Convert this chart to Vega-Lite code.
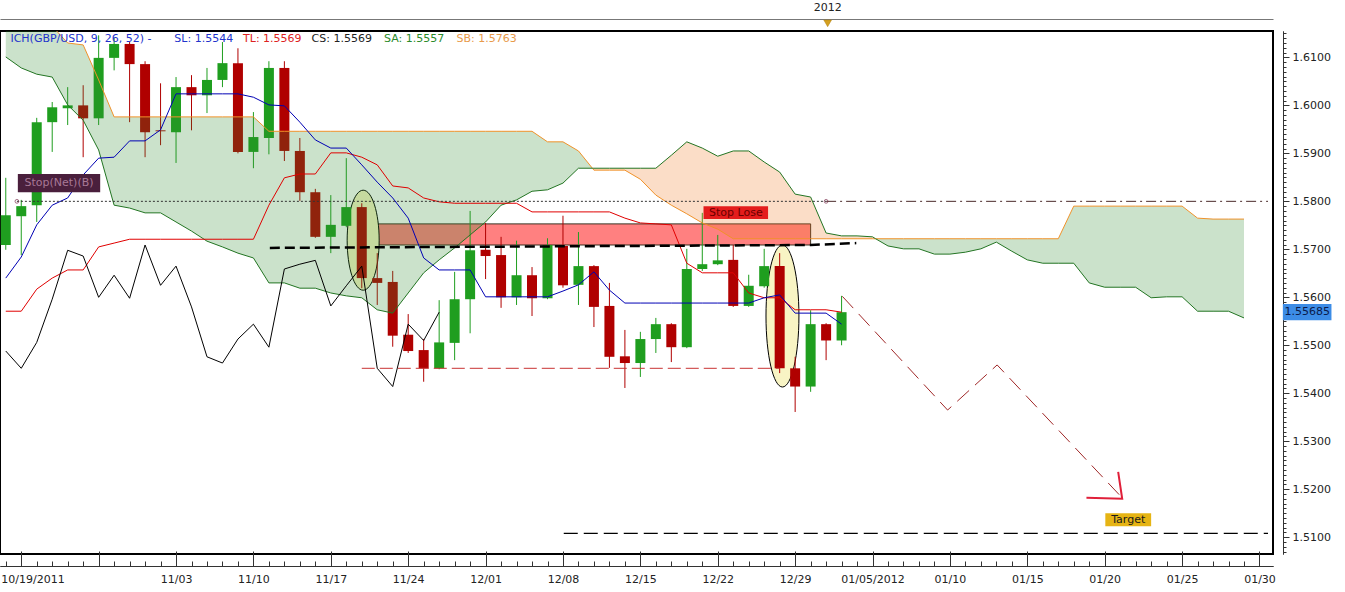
{
"$schema": "https://vega.github.io/schema/vega-lite/v6.json",
"width": 1273, "height": 523,
"autosize": {"type": "none"},
"padding": {"left": 0, "top": 31, "right": 72, "bottom": 38},
"background": "#ffffff",
"config": {"view": {"stroke": "#000000", "strokeWidth": 2}, "font": "DejaVu Sans",
  "axis": {"labelFont": "DejaVu Sans", "labelFontSize": 11, "labelColor": "#222222", "tickColor": "#333333", "domainColor": "#333333", "grid": false}},
"datasets": {
"ohlc": [
{"t":0,"o":1.5709,"h":1.5849,"l":1.5699,"c":1.5771},
{"t":1,"o":1.5769,"h":1.5803,"l":1.5688,"c":1.5790},
{"t":2,"o":1.5792,"h":1.5974,"l":1.5757,"c":1.5965},
{"t":3,"o":1.5965,"h":1.6007,"l":1.5903,"c":1.5996},
{"t":4,"o":1.5994,"h":1.6038,"l":1.5959,"c":1.6000},
{"t":5,"o":1.6000,"h":1.6042,"l":1.5892,"c":1.5973},
{"t":6,"o":1.5973,"h":1.6146,"l":1.5959,"c":1.6099},
{"t":7,"o":1.6099,"h":1.6140,"l":1.6073,"c":1.6128},
{"t":8,"o":1.6128,"h":1.6132,"l":1.5965,"c":1.6086},
{"t":9,"o":1.6086,"h":1.6092,"l":1.5892,"c":1.5944},
{"t":10,"o":1.5948,"h":1.6046,"l":1.5917,"c":1.5946},
{"t":11,"o":1.5944,"h":1.6059,"l":1.5880,"c":1.6038},
{"t":12,"o":1.6038,"h":1.6063,"l":1.5948,"c":1.6021},
{"t":13,"o":1.6021,"h":1.6078,"l":1.5984,"c":1.6053},
{"t":14,"o":1.6053,"h":1.6132,"l":1.6038,"c":1.6088},
{"t":15,"o":1.6088,"h":1.6119,"l":1.5900,"c":1.5903},
{"t":16,"o":1.5903,"h":1.5986,"l":1.5869,"c":1.5934},
{"t":17,"o":1.5932,"h":1.6092,"l":1.5898,"c":1.6078},
{"t":18,"o":1.6078,"h":1.6092,"l":1.5884,"c":1.5905},
{"t":19,"o":1.5905,"h":1.5932,"l":1.5801,"c":1.5819},
{"t":20,"o":1.5819,"h":1.5826,"l":1.5724,"c":1.5726},
{"t":21,"o":1.5726,"h":1.5813,"l":1.5692,"c":1.5751},
{"t":22,"o":1.5749,"h":1.5890,"l":1.5746,"c":1.5788},
{"t":23,"o":1.5788,"h":1.5796,"l":1.5619,"c":1.5640},
{"t":24,"o":1.5640,"h":1.5692,"l":1.5584,"c":1.5630},
{"t":25,"o":1.5632,"h":1.5655,"l":1.5497,"c":1.5520},
{"t":26,"o":1.5522,"h":1.5565,"l":1.5484,"c":1.5488},
{"t":27,"o":1.5490,"h":1.5513,"l":1.5424,"c":1.5452},
{"t":28,"o":1.5452,"h":1.5594,"l":1.5450,"c":1.5506},
{"t":29,"o":1.5505,"h":1.5653,"l":1.5469,"c":1.5596},
{"t":30,"o":1.5596,"h":1.5780,"l":1.5525,"c":1.5698},
{"t":31,"o":1.5699,"h":1.5755,"l":1.5638,"c":1.5686},
{"t":32,"o":1.5688,"h":1.5726,"l":1.5578,"c":1.5600},
{"t":33,"o":1.5600,"h":1.5718,"l":1.5584,"c":1.5646},
{"t":34,"o":1.5646,"h":1.5663,"l":1.5561,"c":1.5598},
{"t":35,"o":1.5598,"h":1.5723,"l":1.5596,"c":1.5709},
{"t":36,"o":1.5707,"h":1.5770,"l":1.5620,"c":1.5625},
{"t":37,"o":1.5626,"h":1.5736,"l":1.5584,"c":1.5665},
{"t":38,"o":1.5665,"h":1.5667,"l":1.5538,"c":1.5580},
{"t":39,"o":1.5582,"h":1.5630,"l":1.5453,"c":1.5476},
{"t":40,"o":1.5477,"h":1.5532,"l":1.5411,"c":1.5463},
{"t":41,"o":1.5463,"h":1.5528,"l":1.5434,"c":1.5513},
{"t":42,"o":1.5513,"h":1.5557,"l":1.5484,"c":1.5544},
{"t":43,"o":1.5544,"h":1.5546,"l":1.5465,"c":1.5496},
{"t":44,"o":1.5496,"h":1.5701,"l":1.5494,"c":1.5659},
{"t":45,"o":1.5659,"h":1.5776,"l":1.5655,"c":1.5669},
{"t":46,"o":1.5669,"h":1.5730,"l":1.5667,"c":1.5677},
{"t":47,"o":1.5678,"h":1.5709,"l":1.5580,"c":1.5582},
{"t":48,"o":1.5582,"h":1.5647,"l":1.5580,"c":1.5624},
{"t":49,"o":1.5623,"h":1.5701,"l":1.5620,"c":1.5665},
{"t":50,"o":1.5665,"h":1.5692,"l":1.5442,"c":1.5452},
{"t":51,"o":1.5452,"h":1.5476,"l":1.5361,"c":1.5414},
{"t":52,"o":1.5414,"h":1.5573,"l":1.5403,"c":1.5544},
{"t":53,"o":1.5544,"h":1.5546,"l":1.5469,"c":1.5510},
{"t":54,"o":1.5510,"h":1.5603,"l":1.5500,"c":1.5569}
],
"chikou": [
{"t":0,"cs":1.5488},{"t":1,"cs":1.5452},{"t":2,"cs":1.5506},{"t":3,"cs":1.5596},{"t":4,"cs":1.5698},
{"t":5,"cs":1.5686},{"t":6,"cs":1.5600},{"t":7,"cs":1.5646},{"t":8,"cs":1.5598},{"t":9,"cs":1.5709},
{"t":10,"cs":1.5625},{"t":11,"cs":1.5665},{"t":12,"cs":1.5580},{"t":13,"cs":1.5476},{"t":14,"cs":1.5463},
{"t":15,"cs":1.5513},{"t":16,"cs":1.5544},{"t":17,"cs":1.5496},{"t":18,"cs":1.5659},{"t":19,"cs":1.5669},
{"t":20,"cs":1.5677},{"t":21,"cs":1.5582},{"t":22,"cs":1.5624},{"t":23,"cs":1.5665},{"t":24,"cs":1.5452},
{"t":25,"cs":1.5414},{"t":26,"cs":1.5544},{"t":27,"cs":1.5510},{"t":28,"cs":1.5569}
],
"ichi": [
{"t":0,"tl":1.5571,"sl":1.5640},{"t":1,"tl":1.5571,"sl":1.5684},{"t":2,"tl":1.5617,"sl":1.5751},
{"t":3,"tl":1.5640,"sl":1.5792},{"t":4,"tl":1.5657,"sl":1.5807},{"t":5,"tl":1.5657,"sl":1.5855},
{"t":6,"tl":1.5705,"sl":1.5890},{"t":7,"tl":1.5713,"sl":1.5892},{"t":8,"tl":1.5721,"sl":1.5926},
{"t":9,"tl":1.5721,"sl":1.5926},{"t":10,"tl":1.5721,"sl":1.5949},{"t":11,"tl":1.5721,"sl":1.6024},
{"t":12,"tl":1.5721,"sl":1.6024},{"t":13,"tl":1.5721,"sl":1.6024},{"t":14,"tl":1.5721,"sl":1.6024},
{"t":15,"tl":1.5721,"sl":1.6024},{"t":16,"tl":1.5721,"sl":1.6017},{"t":17,"tl":1.5792,"sl":1.6001},
{"t":18,"tl":1.5849,"sl":1.5999},{"t":19,"tl":1.5857,"sl":1.5965},{"t":20,"tl":1.5857,"sl":1.5928},
{"t":21,"tl":1.5901,"sl":1.5911},{"t":22,"tl":1.5901,"sl":1.5911},{"t":23,"tl":1.5892,"sl":1.5876},
{"t":24,"tl":1.5876,"sl":1.5840},{"t":25,"tl":1.5832,"sl":1.5807},{"t":26,"tl":1.5828,"sl":1.5765},
{"t":27,"tl":1.5807,"sl":1.5682},{"t":28,"tl":1.5799,"sl":1.5657},{"t":29,"tl":1.5796,"sl":1.5657},
{"t":30,"tl":1.5796,"sl":1.5657},{"t":31,"tl":1.5796,"sl":1.5601},{"t":32,"tl":1.5796,"sl":1.5601},
{"t":33,"tl":1.5796,"sl":1.5601},{"t":34,"tl":1.5778,"sl":1.5601},{"t":35,"tl":1.5778,"sl":1.5601},
{"t":36,"tl":1.5778,"sl":1.5613},{"t":37,"tl":1.5778,"sl":1.5626},{"t":38,"tl":1.5778,"sl":1.5653},
{"t":39,"tl":1.5778,"sl":1.5615},{"t":40,"tl":1.5765,"sl":1.5588},{"t":41,"tl":1.5755,"sl":1.5588},
{"t":42,"tl":1.5753,"sl":1.5588},{"t":43,"tl":1.5751,"sl":1.5588},{"t":44,"tl":1.5671,"sl":1.5588},
{"t":45,"tl":1.5651,"sl":1.5588},{"t":46,"tl":1.5651,"sl":1.5588},{"t":47,"tl":1.5651,"sl":1.5588},
{"t":48,"tl":1.5609,"sl":1.5588},{"t":49,"tl":1.5599,"sl":1.5599},{"t":50,"tl":1.5599,"sl":1.5605},
{"t":51,"tl":1.5574,"sl":1.5567},{"t":52,"tl":1.5574,"sl":1.5567},{"t":53,"tl":1.5574,"sl":1.5567},
{"t":54,"tl":1.5569,"sl":1.5544}
],
"kumo": [
{"t":0,"sa":1.6101,"sb":1.6165},{"t":1,"sa":1.6078,"sb":1.6165},{"t":2,"sa":1.6065,"sb":1.6165},
{"t":3,"sa":1.6059,"sb":1.6165},{"t":4,"sa":1.6001,"sb":1.6130},{"t":5,"sa":1.5969,"sb":1.6126},
{"t":6,"sa":1.5907,"sb":1.6053},{"t":7,"sa":1.5792,"sb":1.5976},{"t":8,"sa":1.5786,"sb":1.5976},
{"t":9,"sa":1.5776,"sb":1.5976},{"t":10,"sa":1.5776,"sb":1.5976},{"t":11,"sa":1.5757,"sb":1.5976},
{"t":12,"sa":1.5738,"sb":1.5976},{"t":13,"sa":1.5717,"sb":1.5976},{"t":14,"sa":1.5705,"sb":1.5976},
{"t":15,"sa":1.5692,"sb":1.5976},{"t":16,"sa":1.5682,"sb":1.5976},{"t":17,"sa":1.5630,"sb":1.5946},
{"t":18,"sa":1.5630,"sb":1.5946},{"t":19,"sa":1.5619,"sb":1.5946},{"t":20,"sa":1.5619,"sb":1.5946},
{"t":21,"sa":1.5609,"sb":1.5946},{"t":22,"sa":1.5603,"sb":1.5946},{"t":23,"sa":1.5599,"sb":1.5946},
{"t":24,"sa":1.5574,"sb":1.5946},{"t":25,"sa":1.5567,"sb":1.5946},{"t":26,"sa":1.5609,"sb":1.5946},
{"t":27,"sa":1.5651,"sb":1.5946},{"t":28,"sa":1.5678,"sb":1.5946},{"t":29,"sa":1.5703,"sb":1.5946},
{"t":30,"sa":1.5730,"sb":1.5946},{"t":31,"sa":1.5757,"sb":1.5946},{"t":32,"sa":1.5792,"sb":1.5946},
{"t":33,"sa":1.5803,"sb":1.5946},{"t":34,"sa":1.5821,"sb":1.5946},{"t":35,"sa":1.5824,"sb":1.5924},
{"t":36,"sa":1.5838,"sb":1.5924},{"t":37,"sa":1.5869,"sb":1.5905},{"t":37.9,"sa":1.5869,"sb":1.5869},
{"t":38,"sa":1.5869,"sb":1.5865},{"t":39,"sa":1.5869,"sb":1.5865},{"t":40,"sa":1.5869,"sb":1.5865},
{"t":41,"sa":1.5869,"sb":1.5846},{"t":42,"sa":1.5869,"sb":1.5813},{"t":43,"sa":1.5896,"sb":1.5792},
{"t":44,"sa":1.5924,"sb":1.5774},{"t":45,"sa":1.5911,"sb":1.5755},{"t":46,"sa":1.5894,"sb":1.5742},
{"t":47,"sa":1.5905,"sb":1.5722},{"t":48,"sa":1.5905,"sb":1.5722},{"t":49,"sa":1.5882,"sb":1.5722},
{"t":50,"sa":1.5861,"sb":1.5722},{"t":51,"sa":1.5815,"sb":1.5722},{"t":52,"sa":1.5809,"sb":1.5722},
{"t":53,"sa":1.5734,"sb":1.5722},{"t":54,"sa":1.5728,"sb":1.5722},{"t":55,"sa":1.5728,"sb":1.5722},
{"t":56,"sa":1.5726,"sb":1.5722},{"t":56.2,"sa":1.5722,"sb":1.5722},{"t":57,"sa":1.5707,"sb":1.5722},
{"t":58,"sa":1.5701,"sb":1.5722},{"t":59,"sa":1.5701,"sb":1.5722},{"t":60,"sa":1.5690,"sb":1.5722},
{"t":61,"sa":1.5690,"sb":1.5722},{"t":62,"sa":1.5694,"sb":1.5722},{"t":63,"sa":1.5701,"sb":1.5722},
{"t":64,"sa":1.5715,"sb":1.5722},{"t":65,"sa":1.5696,"sb":1.5722},{"t":66,"sa":1.5678,"sb":1.5722},
{"t":67,"sa":1.5671,"sb":1.5722},{"t":68,"sa":1.5671,"sb":1.5722},{"t":69,"sa":1.5671,"sb":1.5790},
{"t":70,"sa":1.5630,"sb":1.5790},{"t":71,"sa":1.5621,"sb":1.5790},{"t":72,"sa":1.5621,"sb":1.5790},
{"t":73,"sa":1.5621,"sb":1.5790},{"t":74,"sa":1.5599,"sb":1.5790},{"t":75,"sa":1.5601,"sb":1.5790},
{"t":76,"sa":1.5601,"sb":1.5790},{"t":77,"sa":1.5571,"sb":1.5765},{"t":78,"sa":1.5571,"sb":1.5763},
{"t":79,"sa":1.5571,"sb":1.5763},{"t":80,"sa":1.5557,"sb":1.5763}
],
"tags": [
{"id":"net","t1":0.78,"t2":6.1,"p1":1.5857,"p2":1.5819,"tc":3.44,"pc":1.5838,"txt":"Stop(Net)(B)"},
{"id":"lose","t1":45.08,"t2":49.25,"p1":1.5790,"p2":1.5763,"tc":47.17,"pc":1.57765,"txt":"Stop Lose"},
{"id":"target","t1":71.04,"t2":74.0,"p1":1.5150,"p2":1.5123,"tc":72.52,"pc":1.51365,"txt":"Target"},
{"id":"price","t1":82.51,"t2":85.65,"p1":1.5586,"p2":1.5552,"tc":84.08,"pc":1.55685,"txt":"1.55685"}
],
"hdr": [
{"t":0.3,"p":1.6138,"s":"ich","txt":"ICH(GBP/USD, 9, 26, 52) -"},
{"t":10.89,"p":1.6138,"s":"sl","txt":"SL: 1.5544"},
{"t":15.33,"p":1.6138,"s":"tl","txt":"TL: 1.5569"},
{"t":19.76,"p":1.6138,"s":"cs","txt":"CS: 1.5569"},
{"t":24.44,"p":1.6138,"s":"sa","txt":"SA: 1.5557"},
{"t":29.12,"p":1.6138,"s":"sb","txt":"SB: 1.5763"}
]
},
"encoding": {
  "x": {"field": "t", "type": "quantitative", "scale": {"domain": [-0.05, 81.55], "nice": false, "zero": false}, "axis": null},
  "y": {"field": "p", "type": "quantitative", "scale": {"domain": [1.5065, 1.6155], "nice": false, "zero": false}, "axis": null}
},
"resolve": {"axis": {"x": "independent", "y": "independent"}, "scale": {"color": "independent", "fill": "independent"}},
"layer": [
{"data": {"values": [{"t1": 24.05, "t2": 52.0, "p1": 1.5753, "p2": 1.5709}]},
 "mark": {"type": "rect", "fill": "#ff8080", "stroke": "#3a3020", "strokeWidth": 1},
 "encoding": {"x": {"field": "t1", "type": "quantitative", "axis": null}, "x2": {"field": "t2"},
   "y": {"field": "p1", "type": "quantitative", "axis": null}, "y2": {"field": "p2"}}},
{"data": {"values": [{"t": 23.09, "p": 1.5719}]},
 "mark": {"type": "point", "shape": "M0,-1C0.1767,-1,0.32,-0.5523,0.32,0C0.32,0.5523,0.1767,1,0,1C-0.1767,1,-0.32,0.5523,-0.32,0C-0.32,-0.5523,-0.1767,-1,0,-1Z", "size": 10000, "filled": true, "fill": "#f8f4c4", "stroke": "#000000", "strokeWidth": 1, "opacity": 1}},
{"data": {"values": [{"t": 50.18, "p": 1.5561}]},
 "mark": {"type": "point", "shape": "M0,-1C0.1282,-1,0.232,-0.5523,0.232,0C0.232,0.5523,0.1282,1,0,1C-0.1282,1,-0.232,0.5523,-0.232,0C-0.232,-0.5523,-0.1282,-1,0,-1Z", "size": 20164, "filled": true, "fill": "#f8f4c4", "stroke": "#000000", "strokeWidth": 1, "opacity": 1}},
{"data": {"name": "ohlc"},
 "mark": {"type": "rule", "strokeWidth": 1},
 "encoding": {
   "x": {"field": "t", "type": "quantitative", "scale": {"domain": [-0.05, 81.55], "nice": false, "zero": false},
     "axis": {"orient": "bottom", "offset": 12, "title": null, "grid": false,
       "values": [0,1,6,11,16,21,26,31,36,41,46,51,56,61,66,71,76,81],
       "labelExpr": "datum.value == 0 ? '10/19/2011' : ['','','11/03','11/10','11/17','11/24','12/01','12/08','12/15','12/22','12/29','01/05/2012','01/10','01/15','01/20','01/25','01/30'][(datum.value-1)/5]",
       "tickSize": -15, "labelPadding": 22, "labelFlush": false, "labelOverlap": false, "labelBound": false,
       "labelAlign": {"condition": {"test": "datum.value == 0", "value": "left"}, "value": "center"},
       "labelOffset": {"condition": {"test": "datum.value == 0", "value": -5}, "value": 0},
       "tickOpacity": {"condition": {"test": "datum.value == 0", "value": 0}, "value": 1}}},
   "y": {"field": "l", "type": "quantitative", "scale": {"domain": [1.5065, 1.6155], "nice": false, "zero": false},
     "axis": {"orient": "right", "offset": 10, "title": null, "grid": false,
       "values": [1.51,1.52,1.53,1.54,1.55,1.56,1.57,1.58,1.59,1.60,1.61], "format": ".4f",
       "tickSize": 6, "labelPadding": 3, "labelOverlap": false}},
   "y2": {"field": "h"},
   "color": {"condition": {"test": "datum.c >= datum.o", "value": "#1f9e1f"}, "value": "#b00000"}}},
{"data": {"name": "ohlc"},
 "mark": {"type": "bar", "size": 10, "orient": "vertical"},
 "encoding": {
   "x": {"field": "t", "type": "quantitative", "scale": {"domain": [-0.05, 81.55], "nice": false, "zero": false},
     "axis": {"orient": "bottom", "offset": 12, "title": null, "grid": false, "tickCount": 82, "tickSize": -5, "labels": false}},
   "y": {"field": "o", "type": "quantitative", "scale": {"domain": [1.5065, 1.6155], "nice": false, "zero": false},
     "axis": {"orient": "right", "offset": 10, "title": null, "grid": false, "tickCount": 109, "tickSize": 3, "labels": false}},
   "y2": {"field": "c"},
   "color": {"condition": {"test": "datum.c >= datum.o", "value": "#1f9e1f"}, "value": "#b00000"}}},
{"data": {"name": "kumo"}, "transform": [{"filter": "datum.t <= 37.9"}],
 "mark": {"type": "area", "fill": "#2e8b2e", "fillOpacity": 0.25, "clip": true},
 "encoding": {"y": {"field": "sa", "type": "quantitative", "axis": null}, "y2": {"field": "sb"}}},
{"data": {"name": "kumo"}, "transform": [{"filter": "datum.t >= 37.9 && datum.t <= 56.2"}],
 "mark": {"type": "area", "fill": "#f0781e", "fillOpacity": 0.25, "clip": true},
 "encoding": {"y": {"field": "sa", "type": "quantitative", "axis": null}, "y2": {"field": "sb"}}},
{"data": {"name": "kumo"}, "transform": [{"filter": "datum.t >= 56.2"}],
 "mark": {"type": "area", "fill": "#2e8b2e", "fillOpacity": 0.25, "clip": true},
 "encoding": {"y": {"field": "sa", "type": "quantitative", "axis": null}, "y2": {"field": "sb"}}},
{"data": {"name": "kumo"},
 "mark": {"type": "line", "stroke": "#f0922a", "strokeWidth": 1, "clip": true},
 "encoding": {"y": {"field": "sb", "type": "quantitative", "axis": null}}},
{"data": {"name": "kumo"},
 "mark": {"type": "line", "stroke": "#237523", "strokeWidth": 1, "clip": true},
 "encoding": {"y": {"field": "sa", "type": "quantitative", "axis": null}}},
{"data": {"name": "ichi"},
 "mark": {"type": "line", "stroke": "#e00000", "strokeWidth": 1},
 "encoding": {"y": {"field": "tl", "type": "quantitative", "axis": null}}},
{"data": {"name": "ichi"},
 "mark": {"type": "line", "stroke": "#0000b4", "strokeWidth": 1},
 "encoding": {"y": {"field": "sl", "type": "quantitative", "axis": null}}},
{"data": {"name": "chikou"},
 "mark": {"type": "line", "stroke": "#000000", "strokeWidth": 1},
 "encoding": {"y": {"field": "cs", "type": "quantitative", "axis": null}}},
{"data": {"values": [{"t1": 0.72, "t2": 53.0, "p": 1.58}]},
 "mark": {"type": "rule", "stroke": "#333333", "strokeWidth": 1, "strokeDash": [2, 2]},
 "encoding": {"x": {"field": "t1", "type": "quantitative", "axis": null}, "x2": {"field": "t2"}}},
{"data": {"values": [{"t1": 53.0, "t2": 81.55, "p": 1.58}]},
 "mark": {"type": "rule", "stroke": "#4a2a2a", "strokeWidth": 1, "strokeDash": [10, 4, 2, 4]},
 "encoding": {"x": {"field": "t1", "type": "quantitative", "axis": null}, "x2": {"field": "t2"}}},
{"data": {"values": [{"t": 0.72, "p": 1.58}, {"t": 53.0, "p": 1.58}]},
 "mark": {"type": "point", "size": 14, "filled": false, "stroke": "#7a2a4a", "strokeWidth": 1}},
{"data": {"values": [{"t": 17.06, "p": 1.5703}, {"t": 52.0, "p": 1.5709}, {"t": 54.95, "p": 1.5713}]},
 "mark": {"type": "line", "stroke": "#000000", "strokeWidth": 2.5, "strokeDash": [10, 5]}},
{"data": {"values": [{"t1": 23.0, "t2": 50.0, "p": 1.5452}]},
 "mark": {"type": "rule", "stroke": "#c83232", "strokeWidth": 1, "strokeDash": [13, 5]},
 "encoding": {"x": {"field": "t1", "type": "quantitative", "axis": null}, "x2": {"field": "t2"}}},
{"data": {"values": [{"t1": 36.05, "t2": 81.55, "p": 1.5108}]},
 "mark": {"type": "rule", "stroke": "#000000", "strokeWidth": 1.2, "strokeDash": [14, 6]},
 "encoding": {"x": {"field": "t1", "type": "quantitative", "axis": null}, "x2": {"field": "t2"}}},
{"data": {"values": [{"t": 54.05, "p": 1.5602}, {"t": 60.85, "p": 1.5365}, {"t": 64.05, "p": 1.5459}, {"t": 72.13, "p": 1.5182}]},
 "mark": {"type": "line", "stroke": "#a02828", "strokeWidth": 1, "strokeDash": [16, 8]}},
{"data": {"values": [{"k": 1, "t": 69.82, "p": 1.5182}, {"k": 2, "t": 72.13, "p": 1.5180}, {"k": 3, "t": 71.87, "p": 1.5236}]},
 "mark": {"type": "line", "stroke": "#e0203a", "strokeWidth": 2},
 "encoding": {"order": {"field": "k", "type": "quantitative"}}},
{"data": {"name": "tags"},
 "mark": {"type": "rect"},
 "encoding": {"x": {"field": "t1", "type": "quantitative", "axis": null}, "x2": {"field": "t2"},
   "y": {"field": "p1", "type": "quantitative", "axis": null}, "y2": {"field": "p2"},
   "fill": {"field": "id", "type": "nominal", "legend": null,
     "scale": {"domain": ["net", "lose", "target", "price"], "range": ["#4a1f3c", "#e41c1c", "#e6b414", "#3c8ce6"]}}}},
{"data": {"name": "tags"},
 "mark": {"type": "text", "font": "DejaVu Sans", "fontSize": 11, "align": "center", "baseline": "middle"},
 "encoding": {"x": {"field": "tc", "type": "quantitative", "axis": null},
   "y": {"field": "pc", "type": "quantitative", "axis": null},
   "text": {"field": "txt"},
   "color": {"field": "id", "type": "nominal", "legend": null,
     "scale": {"domain": ["net", "lose", "target", "price"], "range": ["#a87896", "#6a0000", "#1a1a1a", "#0a1a4a"]}}}},
{"data": {"name": "hdr"},
 "mark": {"type": "text", "font": "DejaVu Sans", "fontSize": 11, "align": "left", "baseline": "middle"},
 "encoding": {"text": {"field": "txt"},
   "color": {"field": "s", "type": "nominal", "legend": null,
     "scale": {"domain": ["ich", "sl", "tl", "cs", "sa", "sb"], "range": ["#2233cc", "#2233cc", "#dd2222", "#222222", "#2a8a2a", "#e89a4a"]}}}},
{"data": {"values": [{"t": 53.1, "p": 1.6171}]},
 "mark": {"type": "point", "shape": "triangle-down", "size": 60, "filled": true, "fill": "#d4a020", "stroke": "#b08010", "strokeWidth": 0.5, "opacity": 1}},
{"data": {"values": [{"t": 53.1, "p": 1.62027, "txt": "2012"}]},
 "mark": {"type": "text", "font": "DejaVu Sans", "fontSize": 11, "align": "center", "baseline": "middle", "color": "#222222"},
 "encoding": {
   "x": {"field": "t", "type": "quantitative", "scale": {"domain": [-0.05, 81.55], "nice": false, "zero": false},
     "axis": {"orient": "top", "offset": 12, "title": null, "grid": false, "ticks": false, "labels": false, "domain": true, "domainColor": "#777777", "domainWidth": 1}},
   "text": {"field": "txt"}}}
]
}
